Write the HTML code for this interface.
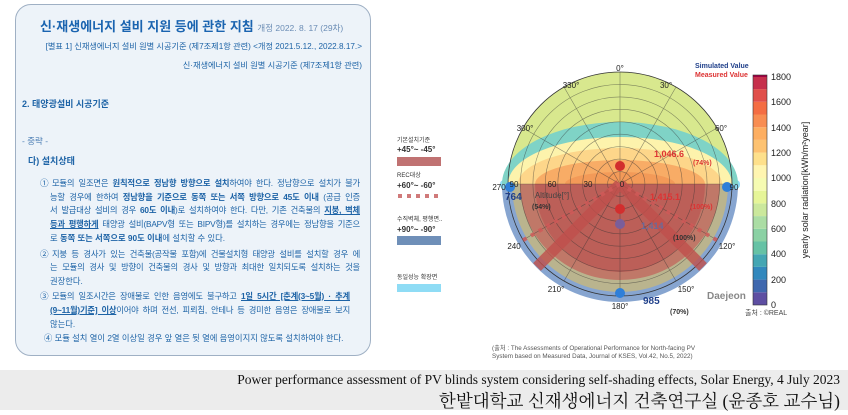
<!DOCTYPE html>
<html><head><meta charset="utf-8"><style>
body{margin:0;width:848px;height:415px;overflow:hidden;background:#fff;font-family:"Liberation Sans","Noto Sans CJK KR",sans-serif;position:relative}
.box{position:absolute;left:15px;top:4px;width:354px;height:350px;background:#edf3f9;border:1.5px solid #9fb0c4;border-radius:16px}
.t{position:absolute;color:#1d63a6;font-size:8.6px;white-space:nowrap}
.j{position:absolute;color:#1d63a6;font-size:8.3px;width:310px;text-align:justify;text-align-last:justify;white-space:normal;left:50px;height:12px;overflow:visible;letter-spacing:-0.2px}
b{font-weight:bold}
u{text-decoration:underline}
.banner{position:absolute;left:0;top:370px;width:848px;height:40px;background:#ececec}
</style></head><body>
<div class="box"></div>
<div class="t" style="left:40px;top:16px;font-size:13px;font-weight:bold;color:#1a64b0">신·재생에너지 설비 지원 등에 관한 지침 <span style="font-size:8.5px;font-weight:normal;color:#6b8db5">개정 2022. 8. 17 (29차)</span></div>
<div class="t" style="right:486px;top:40px;font-size:8.2px">[별표 1] 신재생에너지 설비 원별 시공기준 (제7조제1항 관련) &lt;개정 2021.5.12., 2022.8.17.&gt;</div>
<div class="t" style="right:486px;top:59px;font-size:8.2px">신·재생에너지 설비 원별 시공기준 (제7조제1항 관련)</div>
<div class="t" style="left:22px;top:97px;font-weight:bold;font-size:9px">2. 태양광설비 시공기준</div>
<div class="t" style="left:22px;top:135px;font-size:8.5px;color:#4d7fb5">- 중략 -</div>
<div class="t" style="left:28px;top:154px;font-weight:bold;font-size:9px">다) 설치상태</div>
<div class="t" style="left:40px;top:177px">①</div>
<div class="j" style="left:52px;width:308px;top:177px">모듈의 일조면은 <b>원칙적으로 정남향 방향으로 설치</b>하여야 한다. 정남향으로 설치가 불가</div>
<div class="j" style="top:191px">능할 경우에 한하여 <b>정남향을 기준으로 동쪽 또는 서쪽 방향으로 45도 이내</b> (공급 인증</div>
<div class="j" style="top:204px">서 발급대상 설비의 경우 <b>60도 이내</b>)로 설치하여야 한다. 다만, 기존 건축물의 <u><b>지붕, 벽체</b></u></div>
<div class="j" style="top:218px"><u><b>등과 평행하게</b></u> 태양광 설비(BAPV형 또는 BIPV형)를 설치하는 경우에는 정남향을 기준으</div>
<div class="t" style="left:50px;top:232px;font-size:8.3px">로 <b>동쪽 또는 서쪽으로 90도 이내</b>에 설치할 수 있다.</div>
<div class="t" style="left:40px;top:248px">②</div>
<div class="j" style="left:52px;width:308px;top:248px">지붕 등 경사가 있는 건축물(공작물 포함)에 건물설치형 태양광 설비를 설치할 경우 에</div>
<div class="j" style="top:261px">는 모듈의 경사 및 방향이 건축물의 경사 및 방향과 최대한 일치되도록 설치하는 것을</div>
<div class="t" style="left:50px;top:275px;font-size:8.3px">권장한다.</div>
<div class="t" style="left:40px;top:290px">③</div>
<div class="j" style="left:52px;width:298px;top:290px">모듈의 일조시간은 장애물로 인한 음영에도 불구하고 <u><b>1일 5시간 [춘계(3~5월) · 추계</b></u></div>
<div class="j" style="top:304px;width:300px"><u><b>(9~11월)기준] 이상</b></u>이어야 하며 전선, 피뢰침, 안테나 등 경미한 음영은 장애물로 보지</div>
<div class="t" style="left:50px;top:318px;font-size:8.3px">않는다.</div>
<div class="t" style="left:44px;top:332px;font-size:8.3px">④ 모듈 설치 열이 2열 이상일 경우 앞 열은 뒷 열에 음영이지지 않도록 설치하여야 한다.</div>

<svg style="position:absolute;left:0;top:0" width="848" height="415">
<defs>
<clipPath id="up"><rect x="490" y="60" width="260" height="124"/></clipPath>
<clipPath id="dn"><rect x="490" y="184" width="260" height="130"/></clipPath>
<clipPath id="cc"><circle cx="620" cy="184" r="112"/></clipPath>
</defs>
<g font-size="6" fill="#333">
<text x="397" y="142">기본설치기준</text>
<text x="397" y="152" font-size="8" font-weight="bold">+45°~ -45°</text>
<rect x="397" y="157" width="44" height="9" fill="#c07272"/>
<text x="397" y="177">REC대상</text>
<text x="397" y="188" font-size="8" font-weight="bold">+60°~ -60°</text>
<g fill="#d07a7a"><rect x="398" y="194" width="4" height="4"/><rect x="407" y="194" width="4" height="4"/><rect x="416" y="194" width="4" height="4"/><rect x="425" y="194" width="4" height="4"/><rect x="434" y="194" width="4" height="4"/></g>
<text x="397" y="221">수직벽체, 평행면..</text>
<text x="397" y="232" font-size="8" font-weight="bold">+90°~ -90°</text>
<rect x="397" y="236" width="44" height="9" fill="#6f8fb8"/>
<text x="397" y="279">동일성능 확장면</text>
<rect x="397" y="284" width="44" height="8" fill="#8fdcf5"/>
</g>
<circle cx="620" cy="184" r="118" fill="#7a9bcb" clip-path="url(#dn)" opacity="0.9"/>
<rect x="500" y="180" width="240" height="9" rx="4" fill="#8fdcf5"/>
<g clip-path="url(#up)">
<circle cx="620" cy="184" r="112" fill="#d8e88e"/>
<ellipse cx="620" cy="184" rx="118" ry="62" fill="#7fd3c6"/>
<ellipse cx="620" cy="184" rx="112" ry="47" fill="#fdf3ac"/>
<ellipse cx="620" cy="184" rx="102" ry="36" fill="#fdd68a"/>
<ellipse cx="620" cy="184" rx="85" ry="24" fill="#f8ac66"/>
<ellipse cx="620" cy="184" rx="55" ry="12" fill="#f39a58"/>
</g>
<g clip-path="url(#dn)">
<circle cx="620" cy="184" r="108" fill="#bab48e"/>
<ellipse cx="620" cy="184" rx="100" ry="96" fill="#c07868"/>
<ellipse cx="620" cy="184" rx="85" ry="88" fill="#bc5f58"/>
</g>
<g stroke="#333" stroke-width="0.6" fill="none" opacity="0.55" clip-path="url(#cc)">
<circle cx="620" cy="184" r="12.4"/><circle cx="620" cy="184" r="24.9"/><circle cx="620" cy="184" r="37.3"/><circle cx="620" cy="184" r="49.8"/><circle cx="620" cy="184" r="62.2"/><circle cx="620" cy="184" r="74.7"/><circle cx="620" cy="184" r="87.1"/><circle cx="620" cy="184" r="99.6"/>
<line x1="620" y1="72" x2="620" y2="296"/><line x1="508" y1="184" x2="732" y2="184"/>
<line x1="564" y1="87" x2="676" y2="281"/><line x1="676" y1="87" x2="564" y2="281"/>
<line x1="523" y1="128" x2="717" y2="240"/><line x1="717" y1="128" x2="523" y2="240"/>
</g>
<circle cx="620" cy="184" r="112" fill="none" stroke="#333" stroke-width="0.8"/>
<g stroke="#c0504c" stroke-width="11" opacity="0.8"><line x1="620" y1="184" x2="537" y2="267"/><line x1="620" y1="184" x2="703" y2="267"/></g>
<g stroke="#d05a58" stroke-width="4" stroke-dasharray="4 5" opacity="0.85"><line x1="620" y1="184" x2="520" y2="242"/><line x1="620" y1="184" x2="720" y2="242"/></g>
<circle cx="620" cy="166" r="5" fill="#d22e2e"/><circle cx="620" cy="209" r="5" fill="#d22e2e"/><circle cx="620" cy="224" r="5" fill="#7a5e9a"/>
<circle cx="510" cy="187" r="5" fill="#2f7fd8"/><circle cx="727" cy="187" r="5" fill="#2f7fd8"/><circle cx="620" cy="293" r="5" fill="#2f7fd8"/>
<g font-size="8" fill="#222" text-anchor="middle">
<text x="620" y="71">0°</text><text x="571" y="88">330°</text><text x="666" y="88">30°</text>
<text x="525" y="131">300°</text><text x="721" y="131">60°</text>
<text x="499" y="190">270</text><text x="734" y="190">90</text>
<text x="514" y="249">240</text><text x="727" y="249">120°</text>
<text x="556" y="292">210°</text><text x="686" y="292">150°</text><text x="620" y="309">180°</text>
<text x="514" y="187">90</text><text x="552" y="187">60</text><text x="588" y="187">30</text><text x="622" y="187">0</text>
<text x="552" y="198" fill="#444">Altitude[°]</text>
</g>
<g font-weight="bold">
<text x="654" y="157" font-size="9" fill="#d33">1,046.6</text><text x="693" y="165" font-size="7" fill="#d33">(74%)</text>
<text x="650" y="200" font-size="9" fill="#d33">1,415.1</text><text x="690" y="209" font-size="7" fill="#d33">(100%)</text>
<text x="641" y="229" font-size="9" fill="#6a6a9a">1,414</text><text x="673" y="240" font-size="7" fill="#333">(100%)</text>
<text x="505" y="200" font-size="10" fill="#1f3f8a">764</text><text x="532" y="209" font-size="7" fill="#333">(54%)</text>
<text x="643" y="304" font-size="10" fill="#1f3f8a">985</text><text x="670" y="314" font-size="7" fill="#333">(70%)</text>
<text x="707" y="299" font-size="10" fill="#888">Daejeon</text>
<text x="695" y="68" font-size="7" fill="#1f3f8a">Simulated Value</text>
<text x="695" y="77" font-size="7" fill="#d33">Measured Value</text>
</g>
<text x="745" y="315" font-size="7" fill="#444">출처 : ©REAL</text>
<g>
<rect x="753" y="292.3" width="14" height="12.7" fill="#5e4fa2"/>
<rect x="753" y="279.6" width="14" height="12.7" fill="#3f68ae"/>
<rect x="753" y="266.9" width="14" height="12.7" fill="#3288bd"/>
<rect x="753" y="254.2" width="14" height="12.7" fill="#44a6b3"/>
<rect x="753" y="241.5" width="14" height="12.7" fill="#66c2a5"/>
<rect x="753" y="228.8" width="14" height="12.7" fill="#8bd1a4"/>
<rect x="753" y="216.1" width="14" height="12.7" fill="#abdda4"/>
<rect x="753" y="203.4" width="14" height="12.7" fill="#cbe89c"/>
<rect x="753" y="190.7" width="14" height="12.7" fill="#e6f598"/>
<rect x="753" y="178" width="14" height="12.7" fill="#f6fbb2"/>
<rect x="753" y="165.3" width="14" height="12.7" fill="#fff5b0"/>
<rect x="753" y="152.6" width="14" height="12.7" fill="#fee08b"/>
<rect x="753" y="139.9" width="14" height="12.7" fill="#fdc271"/>
<rect x="753" y="127.2" width="14" height="12.7" fill="#fdae61"/>
<rect x="753" y="114.5" width="14" height="12.7" fill="#f88d52"/>
<rect x="753" y="101.8" width="14" height="12.7" fill="#f46d43"/>
<rect x="753" y="89.1" width="14" height="12.7" fill="#e04f4a"/>
<rect x="753" y="76.4" width="14" height="12.7" fill="#c6304c"/>
<rect x="753" y="75" width="14" height="2" fill="#9e0142"/>
<rect x="753" y="75" width="14" height="230" fill="none" stroke="#333" stroke-width="0.6"/>
</g>
<g font-size="9" fill="#222">
<text x="771" y="308">0</text><text x="771" y="283">200</text><text x="771" y="257">400</text><text x="771" y="232">600</text><text x="771" y="207">800</text><text x="771" y="181">1000</text><text x="771" y="156">1200</text><text x="771" y="131">1400</text><text x="771" y="105">1600</text><text x="771" y="80">1800</text>
<text transform="translate(808,190) rotate(-90)" text-anchor="middle" font-size="9">yearly solar radiation[kWh/m²year]</text>
</g>
<text x="492" y="350" font-size="6.3" fill="#555">(출처 : The Assessments of Operational Performance for North-facing PV</text>
<text x="492" y="358" font-size="6.3" fill="#555">System based on Measured Data, Journal of KSES, Vol.42, No.5, 2022)</text>
</svg>
<div class="banner"></div>
<div style="position:absolute;right:8px;top:372px;font-family:'Liberation Serif','Noto Serif CJK SC',serif;font-size:13.5px;color:#111;white-space:nowrap">Power performance assessment of PV blinds system considering self-shading effects, Solar Energy, 4 July 2023</div>
<div style="position:absolute;right:8px;top:388px;font-family:'Liberation Serif','Noto Serif CJK KR',serif;font-size:17.5px;color:#111;white-space:nowrap">한밭대학교 신재생에너지 건축연구실 (윤종호 교수님)</div>
</body></html>
